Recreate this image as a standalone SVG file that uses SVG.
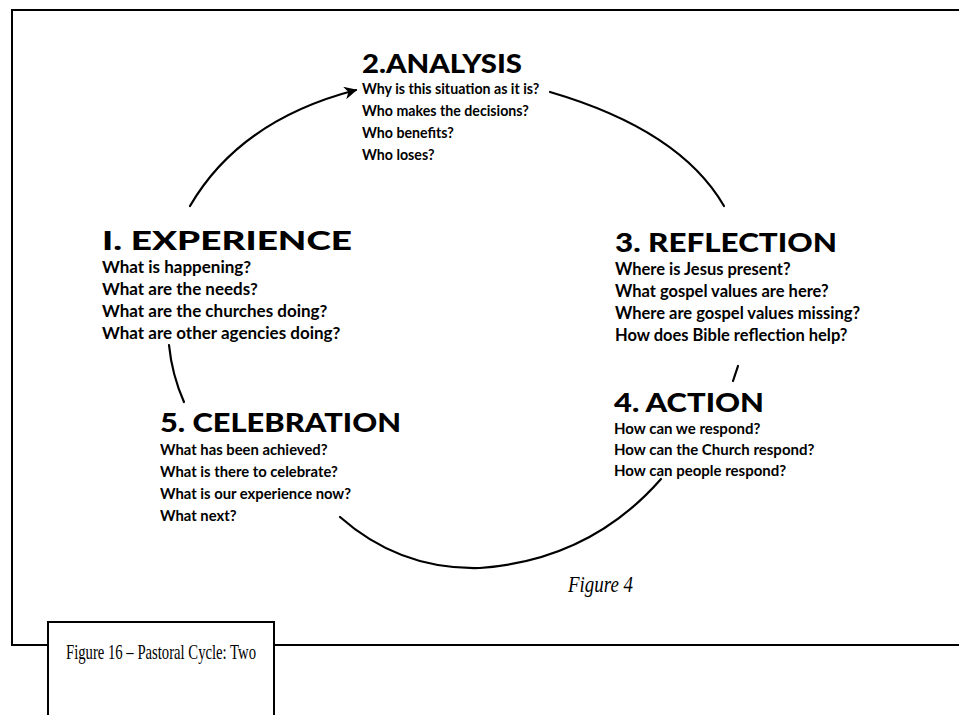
<svg xmlns="http://www.w3.org/2000/svg" width="959" height="715" viewBox="0 0 959 715">
<style>
.h{font-family:Lato,"Liberation Sans",sans-serif;font-weight:900;font-size:26px;fill:#000}
.q{font-family:Lato,"Liberation Sans",sans-serif;font-weight:700;fill:#000}
.c{fill:none;stroke:#000;stroke-width:2.2;stroke-linecap:round}
.f{fill:none;stroke:#000;stroke-width:2}
.cap{font-family:"Liberation Serif",serif;font-size:22px;fill:#000}
.fig{font-family:"Liberation Serif",serif;font-style:italic;font-size:23px;fill:#000}
</style>
<defs>
<marker id="ah" viewBox="0 0 10 10" refX="9" refY="5" markerWidth="13" markerHeight="13" orient="auto" markerUnits="userSpaceOnUse">
<path d="M0,0 L10,5 L0,10 L3,5 Z" fill="#000"/>
</marker>
</defs>
<rect width="959" height="715" fill="#fff"/>
<g id="frame">
<path class="f" d="M959,10 L12,10 L12,645 L48,645"/>
<path class="f" d="M274,645 L959,645"/>
<path class="f" d="M48,715 L48,622 L274,622 L274,715"/>
<text class="cap" x="66" y="659" textLength="190" lengthAdjust="spacingAndGlyphs">Figure 16 – Pastoral Cycle: Two</text>
<text class="fig" x="568" y="592" textLength="65" lengthAdjust="spacingAndGlyphs">Figure 4</text>
</g>
<g id="connectors">
<path class="c" d="M190,206 Q240,120 356,90" marker-end="url(#ah)"/>
<path class="c" d="M550,92 Q680,130 724,206"/>
<path class="c" d="M738,366 L733,381"/>
<path class="c" d="M661,479 Q590,560 480,568 Q400,570 340,517"/>
<path class="c" d="M169,345 Q172,375 184,402"/>
</g>
<g id="analysis">
<text class="h" x="362" y="73" textLength="160" lengthAdjust="spacingAndGlyphs">2.ANALYSIS</text>
<g class="q" font-size="14.2">
<text x="362" y="94">Why is this situation as it is?</text>
<text x="362" y="116">Who makes the decisions?</text>
<text x="362" y="138">Who benefits?</text>
<text x="362" y="160">Who loses?</text>
</g>
</g>
<g id="experience">
<text class="h" x="102" y="250" textLength="250" lengthAdjust="spacingAndGlyphs">I. EXPERIENCE</text>
<g class="q" font-size="17">
<text x="102" y="273">What is happening?</text>
<text x="102" y="295">What are the needs?</text>
<text x="102" y="317">What are the churches doing?</text>
<text x="102" y="339">What are other agencies doing?</text>
</g>
</g>
<g id="reflection">
<text class="h" x="615" y="252" textLength="222" lengthAdjust="spacingAndGlyphs">3. REFLECTION</text>
<g class="q" font-size="16.5">
<text x="615" y="275">Where is Jesus present?</text>
<text x="615" y="297">What gospel values are here?</text>
<text x="615" y="319">Where are gospel values missing?</text>
<text x="615" y="341">How does Bible reflection help?</text>
</g>
</g>
<g id="action">
<text class="h" x="614" y="412" textLength="150" lengthAdjust="spacingAndGlyphs">4. ACTION</text>
<g class="q" font-size="15">
<text x="614" y="434">How can we respond?</text>
<text x="614" y="455">How can the Church respond?</text>
<text x="614" y="476">How can people respond?</text>
</g>
</g>
<g id="celebration">
<text class="h" x="160" y="432" textLength="241" lengthAdjust="spacingAndGlyphs">5. CELEBRATION</text>
<g class="q" font-size="14.8">
<text x="160" y="455">What has been achieved?</text>
<text x="160" y="477">What is there to celebrate?</text>
<text x="160" y="499">What is our experience now?</text>
<text x="160" y="521">What next?</text>
</g>
</g>
</svg>
